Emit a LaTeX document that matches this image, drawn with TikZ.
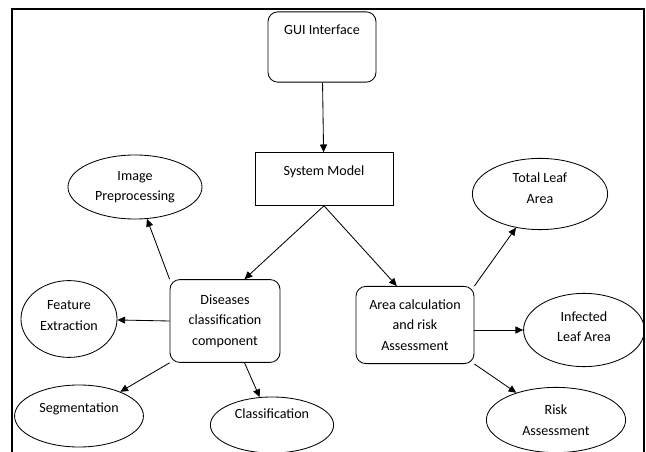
\documentclass[tikz,border=0pt]{standalone}
\usepackage{fontspec}
\setmainfont{Carlito}
\usetikzlibrary{shapes.geometric,arrows.meta}

\begin{document}
\begin{tikzpicture}[x=0.025cm, y=-0.025cm, font=\fontsize{10}{14.5}\selectfont,
  every node/.style={draw, line width=0.6pt, align=center, inner sep=0pt},
  rbox/.style={rectangle, rounded corners=7pt},
  oval/.style={ellipse},
  conn/.style={line width=0.6pt, -{Triangle[length=5.5pt, width=5pt]}}]
  \useasboundingbox (0,0) rectangle (646,452);
  \draw[line width=1.4pt] (12,460) -- (12,9) -- (644,9) -- (644,460);

  \node[rbox, minimum width=2.7cm, text height=16pt, text depth=34pt] (gui) at (322,47) {GUI Interface};
  \node[rectangle, minimum width=3.45cm, text height=16pt, text depth=21.5pt] (sys) at (324,179) {System Model};
  \node[rbox, minimum width=2.75cm, minimum height=2.07cm] (dis) at (225,321) {Diseases\\classification\\component};
  \node[rbox, minimum width=2.95cm, minimum height=1.93cm] (area) at (415,325) {Area calculation\\and risk\\Assessment};

  \node[oval, minimum width=3.35cm, minimum height=1.6cm] (img) at (135,187) {Image\\Preprocessing};
  \node[oval, minimum width=2.4cm, minimum height=1.92cm, text depth=5pt] (feat) at (69,319) {Feature\\Extraction};
  \node[oval, minimum width=3.22cm, minimum height=1.55cm, text depth=12pt] (seg) at (79,416) {Segmentation};
  \node[oval, minimum width=3.08cm, minimum height=1.4cm, text depth=16pt] (cls) at (272,425) {Classification};
  \node[oval, minimum width=3.38cm, minimum height=1.78cm, text depth=8.5pt] (tla) at (540,194) {Total Leaf\\Area};
  \node[oval, minimum width=3.02cm, minimum height=1.83cm, text depth=5pt] (inf) at (584,330) {Infected\\Leaf Area};
  \node[oval, minimum width=3.48cm, minimum height=1.63cm] (risk) at (556,420) {Risk\\Assessment};

  \draw[conn] (gui) -- (sys);
  \draw[conn] (sys.south) -- (dis.65);
  \draw[conn] (sys.south) -- (area.115);
  \draw[conn] (dis.north west) -- (img);
  \draw[conn] (dis.west) -- (feat);
  \draw[conn] (dis.south west) -- (seg);
  \draw[conn] (dis.-65) -- (cls);
  \draw[conn] (area.north east) -- (tla);
  \draw[conn] (area.east |- inf.west) -- (inf.west);
  \draw[conn] (area.south east) -- (risk);
\end{tikzpicture}
\end{document}
